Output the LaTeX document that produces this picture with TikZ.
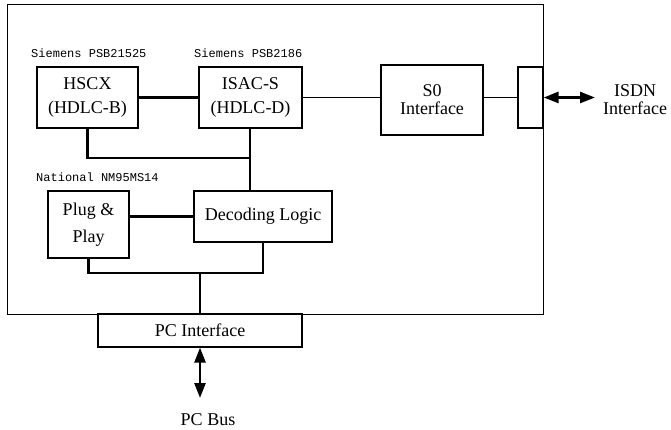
\documentclass[tikz,border=0pt]{standalone}
\usepackage{fontspec}
\setmainfont{Liberation Serif}
\setmonofont{Liberation Mono}
\usetikzlibrary{arrows.meta}
\begin{document}
\begin{tikzpicture}[x=1pt,y=-1pt,
  box/.style={draw,line width=1.2pt,inner sep=0pt,align=center,font=\fontsize{18}{24}\selectfont},
  chip/.style={anchor=west,inner sep=0pt,font=\ttfamily\fontsize{12}{14}\selectfont},
  bus/.style={line width=2.6pt},
  link/.style={line width=1.5pt},
  dbl/.style={line width=2.6pt,{Triangle[length=15pt,width=11pt]}-{Triangle[length=15pt,width=11pt]}}]
  \useasboundingbox (0,0) rectangle (671,430);
  \node[draw,line width=1pt,minimum width=536pt,minimum height=309pt] (board) at (275,159.5) {};
  \node[box,minimum width=101pt,minimum height=61pt] (hscx) at (87.5,97.5) {HSCX\\(HDLC-B)};
  \node[box,minimum width=103pt,minimum height=61pt] (isac) at (250.5,97.5) {ISAC-S\\(HDLC-D)};
  \node[box,minimum width=102pt,minimum height=70pt,font=\fontsize{18}{18}\selectfont] (s0) at (432,100) {S0\\Interface};
  \node[draw,line width=1.2pt,minimum width=25pt,minimum height=61pt] (conn) at (530.5,97.5) {};
  \node[box,minimum width=81pt,minimum height=67pt,font=\fontsize{18}{27}\selectfont] (pnp) at (88.5,224.5) {Plug \&\\Play};
  \node[box,minimum width=138pt,minimum height=51pt] (dec) at (263,216.5) {Decoding Logic};
  \node[box,minimum width=204pt,minimum height=33pt] (pci) at (200,330.5) {PC Interface};
  \node[chip] (siehscx) at (31,53) {Siemens PSB21525};
  \node[chip] (sieisac) at (194,53) {Siemens PSB2186};
  \node[chip] (natpnp) at (36,177) {National NM95MS14};
  \node[align=center,font=\fontsize{18}{18}\selectfont] (isdn) at (635,100) {ISDN\\Interface};
  \node[font=\fontsize{18}{18}\selectfont] (pcbus) at (208,420) {PC Bus};
  \coordinate (bus1) at (250,158);
  \coordinate (bus2) at (200,273);
  \coordinate (isdnend) at (595,97.5);
  \coordinate (pcend) at (200,398);
  \draw[bus] (hscx) -- (isac);
  \draw[link] (isac.east) -- (isac.east -| s0.west);
  \draw[link] (conn.west -| s0.east) -- (conn.west);
  \draw[bus] (hscx.south) |- (bus1) -- (bus1 |- isac.south);
  \draw[bus] (bus1) -- (bus1 |- dec.north);
  \draw[bus] (pnp.east |- dec.west) -- (dec.west);
  \draw[bus] (pnp.south) |- (dec.south |- bus2) -- (dec.south);
  \draw[bus] (bus2) -- (pci.north);
  \draw[dbl] (conn.east) -- (isdnend);
  \draw[dbl] (pci.south) -- (pcend);
\end{tikzpicture}
\end{document}
